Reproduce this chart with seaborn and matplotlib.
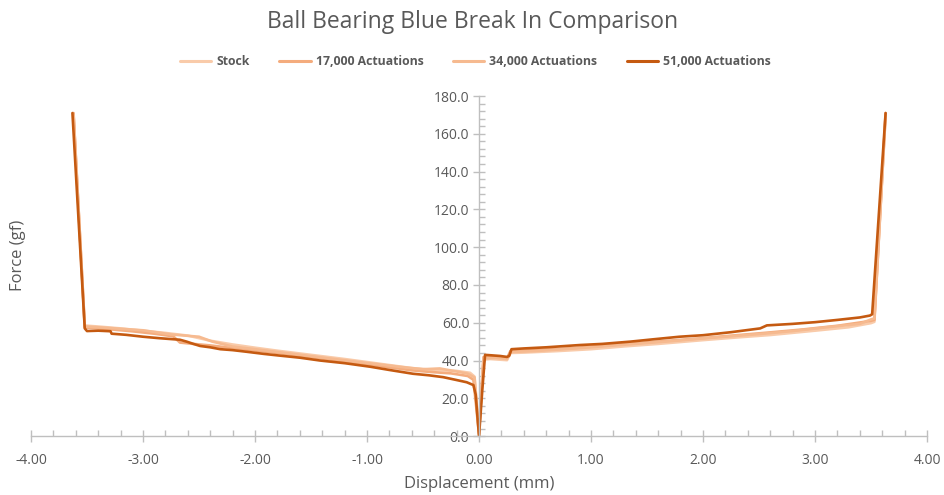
import matplotlib
matplotlib.use("Agg")
import matplotlib.pyplot as plt
from matplotlib.lines import Line2D
from matplotlib.ticker import MultipleLocator, FormatStrFormatter
import numpy as np
import pandas as pd
import seaborn as sns

# Force-displacement sweeps for each switch condition
series_names = ["Stock", "17,000 Actuations", "34,000 Actuations", "51,000 Actuations"]

stock_x = [-3.62, -3.52, -3.40, -3.20, -3.00, -2.80, -2.60, -2.40, -2.20, -2.00, -1.80, -1.50,
           -1.20, -1.00, -0.80, -0.60, -0.40, -0.20, -0.08, -0.04, 0.00, 0.04, 0.10, 0.25, 0.28,
           0.40, 0.70, 1.00, 1.30, 1.60, 2.00, 2.30, 2.60, 3.00, 3.30, 3.50, 3.53, 3.63]
stock_y = [170, 58.5, 58.0, 57.0, 55.8, 54.6, 53.2, 50.5, 48.5, 46.8, 45.2, 43.0,
           40.8, 39.2, 37.6, 36.0, 35.0, 34.5, 33.5, 31.5, 2.0, 40.5, 40.8, 40.2, 44.0,
           44.2, 45.0, 46.0, 47.5, 48.8, 50.8, 52.2, 53.5, 55.8, 57.6, 59.8, 60.5, 170]

k17_x = [-3.62, -3.52, -3.35, -3.10, -2.90, -2.73, -2.67, -2.55, -2.40, -2.20, -2.00, -1.80,
         -1.50, -1.20, -1.00, -0.80, -0.60, -0.40, -0.25, -0.10, -0.05, 0.00, 0.04, 0.12, 0.25,
         0.28, 0.45, 0.80, 1.10, 1.50, 1.90, 2.30, 2.60, 2.90, 3.20, 3.50, 3.53, 3.63]
k17_y = [171, 57.5, 56.8, 55.5, 54.2, 52.8, 49.5, 48.8, 48.0, 46.6, 45.3, 44.0,
         41.8, 39.6, 38.0, 36.4, 34.8, 33.8, 33.2, 31.8, 29.8, 1.0, 41.8, 42.0, 41.2,
         45.0, 45.4, 46.4, 47.8, 49.6, 51.4, 53.4, 54.9, 56.5, 58.4, 61.0, 61.5, 171]

k34_x = [-3.62, -3.52, -3.30, -3.00, -2.75, -2.50, -2.38, -2.20, -2.00, -1.70, -1.40, -1.10,
         -0.90, -0.70, -0.50, -0.35, -0.20, -0.10, -0.04, 0.00, 0.04, 0.15, 0.25, 0.28, 0.50,
         0.90, 1.30, 1.70, 2.10, 2.50, 2.80, 3.10, 3.40, 3.50, 3.53, 3.63]
k34_y = [170, 58.0, 57.2, 56.0, 53.8, 52.6, 50.0, 47.4, 46.0, 43.8, 41.6, 39.4,
         38.0, 36.6, 35.4, 35.8, 34.2, 33.0, 31.0, 1.0, 41.2, 41.4, 40.8, 44.5, 45.0,
         46.6, 48.4, 50.2, 52.2, 54.0, 55.6, 57.6, 59.4, 61.8, 62.3, 170]

k51_x = [-3.63, -3.52, -3.50, -3.40, -3.29, -3.28, -3.15, -3.00, -2.85, -2.67, -2.61, -2.55,
         -2.49, -2.40, -2.31, -2.20, -2.07, -1.92, -1.78, -1.60, -1.42, -1.20, -0.97, -0.80,
         -0.59, -0.45, -0.32, -0.21, -0.11, -0.05, -0.03, 0.00, 0.03, 0.054, 0.10, 0.19, 0.25,
         0.27, 0.29, 0.40, 0.60, 0.90, 1.10, 1.35, 1.55, 1.79, 2.00, 2.25, 2.51, 2.57, 2.80,
         3.00, 3.20, 3.40, 3.49, 3.51, 3.63]
k51_y = [171, 57.0, 55.6, 55.8, 55.5, 54.2, 53.6, 52.6, 51.8, 51.0, 50.0, 48.8,
         47.7, 47.0, 46.0, 45.5, 44.6, 43.5, 42.6, 41.5, 40.0, 38.6, 36.7, 35.0,
         33.0, 32.2, 31.2, 29.8, 28.5, 27.0, 22.0, 0.0, 25.0, 43.0, 42.8, 42.4, 41.9,
         42.5, 46.0, 46.4, 47.0, 48.2, 48.8, 50.0, 51.2, 52.6, 53.4, 55.0, 57.0, 58.6, 59.4,
         60.3, 61.5, 62.8, 63.8, 64.5, 171]

colors = ["#F9CBAA", "#F4AC7D", "#F6BA90", "#C55A11"]

frames = []
for name, xs, ys in zip(series_names,
                        [stock_x, k17_x, k34_x, k51_x],
                        [stock_y, k17_y, k34_y, k51_y]):
    frames.append(pd.DataFrame({"Displacement": xs, "Force": ys, "Series": name}))
df = pd.concat(frames, ignore_index=True)

sns.set_theme(style="white")
plt.rcParams["font.family"] = ["Open Sans", "DejaVu Sans"]

text_color = "#595959"
axis_color = "#BFBFBF"

fig = plt.figure(figsize=(9.45, 4.95), dpi=100)
ax = fig.add_axes([0.0328, 0.119, 0.9482, 0.687])

sns.lineplot(data=df, x="Displacement", y="Force", hue="Series", hue_order=series_names,
             palette=colors, sort=False, estimator=None, units="Series",
             linewidth=1.9, ax=ax, legend=False)

ax.set_xlim(-4, 4)
ax.set_ylim(0, 180)
ax.set_xlabel("")
ax.set_ylabel("")

# Axes cross at the origin
ax.spines["left"].set_position(("data", 0))
ax.spines["bottom"].set_position(("data", 0))
for side in ("top", "right"):
    ax.spines[side].set_visible(False)
for side in ("left", "bottom"):
    ax.spines[side].set_color(axis_color)
    ax.spines[side].set_linewidth(1.0)

ax.xaxis.set_major_locator(MultipleLocator(1.0))
ax.xaxis.set_minor_locator(MultipleLocator(0.2))
ax.xaxis.set_major_formatter(FormatStrFormatter("%.2f"))
ax.yaxis.set_major_locator(MultipleLocator(20))
ax.yaxis.set_minor_locator(MultipleLocator(4))
ax.yaxis.set_major_formatter(FormatStrFormatter("%.1f"))

ax.tick_params(which="both", bottom=True, left=True, top=False, right=False)
ax.tick_params(axis="both", which="major", direction="inout", length=8, width=1,
               color=axis_color, labelcolor=text_color, labelsize=10)
ax.tick_params(axis="both", which="minor", direction="in", length=4, width=1,
               color=axis_color)
ax.tick_params(axis="x", which="major", pad=8)
ax.tick_params(axis="y", which="major", pad=3)
ax.grid(False)

fig.text(0.5, 0.956, "Ball Bearing Blue Break In Comparison", ha="center", va="center",
         fontsize=16.5, color=text_color)
fig.text(0.507, 0.022, "Displacement (mm)", ha="center", va="center",
         fontsize=12, color=text_color)
fig.text(0.019, 0.485, "Force (gf)", ha="center", va="center", rotation=90,
         fontsize=12, color=text_color)

handles = [Line2D([0], [0], color=c, lw=2.2) for c in colors]
fig.legend(handles, series_names, loc="center", bbox_to_anchor=(0.503, 0.875), ncol=4,
           frameon=False, handlelength=2.6, handletextpad=0.4, columnspacing=2.4,
           prop={"weight": "bold", "size": 8.8}, labelcolor=text_color)

fig.savefig("out.png", dpi=100)
